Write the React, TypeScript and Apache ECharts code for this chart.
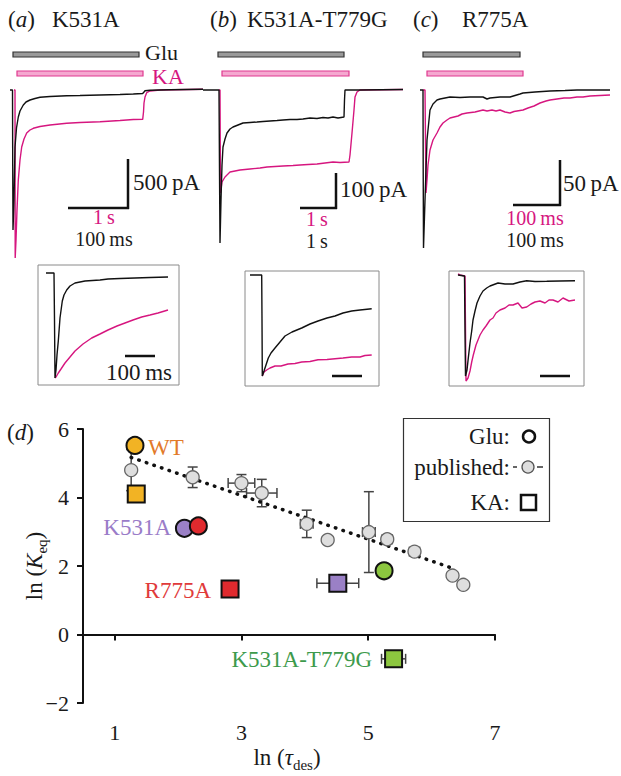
import React, { useEffect, useRef } from "react";
import * as echarts from "echarts";

// ---------- traces (time offset from onset, current relative to baseline; picture units) ----------
const gluA = [[0,0],[2.5,0],[2.7,-70],[3,-140],[4,-110],[5,-57],[6.5,-38],[8.3,-27],[10,-21],[13.3,-15],[16,-12],[20,-10],[25,-8.5],[30,-7.3],[40,-6.5],[56.7,-5.7],[70,-5.5],[90,-5],[110,-4.5],[123.3,-4],[132.7,-3.5],[134,-2],[135,-0.7],[140,-0.3],[160,0.3],[193,0.7]];
const kaA = [[4,0],[5,0],[5.2,-168],[6,-150],[7,-120],[8.3,-90],[10,-70],[11.7,-57],[14,-49],[16.7,-43],[20,-40],[23.3,-38.3],[30,-36.5],[40,-35],[56.7,-33.3],[70,-32.5],[90,-31.7],[110,-30.5],[123.3,-29.5],[132.7,-29.3],[133.5,-22],[134,-13],[135,-7],[136.7,-2.7],[140,-1],[150,0],[193,0.7]];
const gluB = [[0,0],[16,0],[16.5,-80],[17,-153],[18,-110],[19,-75],[20,-57],[22,-49],[24,-43],[27,-39],[30,-37],[35,-35],[40,-33],[47,-32.5],[54,-32],[60,-31.5],[67,-31],[74,-30.5],[80,-30],[87,-29.5],[94,-29.5],[100,-29],[107,-28],[114,-28.5],[120,-27.5],[125,-28],[130,-27],[135,-28],[141,-27],[141.5,-10],[142,0],[157,0],[200,0.5]];
const kaB = [[16,0],[17,0],[17.5,-103],[19,-92],[22,-87],[27,-82],[32,-81],[37,-80],[47,-79],[57,-78],[64,-77],[72,-76.5],[80,-76],[90,-75.5],[97,-75],[105,-74.5],[114,-74],[122,-73],[130,-72],[137,-72.5],[146,-72],[147,-65],[149,-43],[151,-20],[152,-7],[154,-2],[157,0],[200,0.5]];
const gluC = [[0,0],[3,0],[3.2,-80],[3.5,-158],[5,-110],[7,-50],[10,-20],[13,-14],[17,-10],[20,-9],[30,-7],[40,-7.5],[50,-7],[57,-7],[63,-7],[67,-9],[70,-8],[80,-7],[90,-7],[100,-4],[103,-3],[115,-2],[130,-1],[145,-0.5],[157,0],[173,0],[190,0]];
const kaC = [[3,0],[5,0],[6,-103],[7,-90],[8,-75],[10,-60],[13,-50],[17,-43],[20,-37],[23,-33],[27,-30],[30,-28],[34,-27],[38,-26],[42,-24],[47,-23],[51,-22.5],[55,-22],[59,-21],[63,-20],[67,-21],[72,-20],[76,-21],[80,-20],[85,-22],[90,-23],[94,-21.5],[97,-21],[103,-20],[108,-18],[114,-16],[120,-13],[126,-11],[130,-10],[137,-9],[144,-8],[150,-8],[157,-7],[163,-7],[170,-6],[180,-5.5],[190,-5]];

const gluInsetA = [[0,0],[8,0],[8.5,-47],[9,-105],[10,-97],[11,-82],[12.3,-68],[14,-45],[16.3,-28],[18,-22],[20.7,-17],[24,-13],[29,-10],[39,-8],[54,-7],[62,-6],[74,-5.5],[89,-5],[104,-4.5],[122,-4]];
const kaInsetA = [[9,-105],[10,-104],[12.3,-100],[15,-96],[19,-90],[24,-84],[29,-78],[37,-71],[45.7,-65],[54,-61],[62,-57],[71,-53],[79,-50],[87,-47],[95.7,-44],[104,-42],[112,-40],[122,-37]];
const gluInsetB = [[0,0],[11.7,0],[12,-45],[12.3,-101],[14,-96],[16,-90],[18.3,-83],[21,-78],[25,-73],[30,-67],[35,-61],[42,-57],[51.7,-53],[60,-49],[68,-46],[77,-43],[85,-41],[93,-38],[101.7,-36],[110,-35],[121.7,-33.7]];
const kaInsetB = [[12.3,-101],[14,-97],[16.7,-95],[20,-93],[25,-91],[31,-91],[38,-89],[45,-88.5],[51.7,-87],[60,-86.5],[68,-84.7],[77,-84.5],[85,-83.7],[93,-83],[101.7,-82],[110,-82],[115,-80.5],[121.7,-80]];
const gluInsetC = [[0,0],[6.5,-1],[7,-55],[7.5,-101],[9,-95],[10.3,-83],[12,-68],[13.7,-56],[15,-45],[17,-36],[19,-28],[22,-21],[25,-16],[28.7,-13],[32,-11],[40,-8],[47,-9],[55,-9],[62,-7],[68.7,-5.7],[77,-6.5],[88.7,-6.3],[102,-6],[117,-5.7]];
const kaInsetC = [[0,1],[2,0],[7,-1],[7.5,-55],[8,-106],[10,-103],[12,-96],[13.7,-87],[15.3,-80],[18,-70],[22,-60],[25,-55],[28,-51],[32,-45],[35,-43],[38,-38],[42,-35],[47,-33],[51,-30],[55,-30],[60,-28],[64,-33],[68.7,-32],[73,-29],[77,-27],[82,-26],[87,-28],[91,-25],[95,-25],[100,-27],[105,-23],[111,-26],[117,-25]];

// ---------- panel (d) ----------
const publishedX = [1.26, 2.23, 3.0, 3.32, 4.03, 4.36, 5.01, 5.3, 5.73, 6.33, 6.5];
const publishedY = [4.8, 4.59, 4.42, 4.13, 3.23, 2.76, 2.99, 2.78, 2.42, 1.72, 1.45];
const publishedXErr = [0, 0, 0.21, 0.24, 0.1, 0, 0.1, 0.08, 0.08, 0, 0];
const publishedYErr = [0.6, 0.3, 0.25, 0.4, 0.4, 0, 1.18, 0.1, 0.1, 0, 0];

const mutants = ["WT", "K531A", "R775A", "K531A-T779G"];
const mutantColors = ["#f2b324", "#9a80c6", "#e02a2e", "#8cc63f"];
const labelColors = ["#e27a2a", "#9a7cc8", "#e03a3a", "#3d9a4c"];
const gluX = [1.32, 2.1, 2.32, 5.25];
const gluY = [5.52, 3.1, 3.17, 1.86];
const kaX = [1.34, 4.52, 2.82, 5.4];
const kaY = [4.1, 1.5, 1.33, -0.71];
const kaXErr = [0, 0.33, 0, 0.19];

const fitX = [1.26, 6.32];
const fitY = [5.17, 1.94];

const xTicks = [1, 3, 5, 7];

const FONT = '"Liberation Serif", "Times New Roman", serif';
const FS = 23;
const MAG = "#d6167f";
const INK = "#1a1a1a";

const traceGrids = [
  { left: 0, top: 80, width: 210, height: 180, xr: [-10, 200], yr: [-170, 10], border: false, glu: gluA, ka: kaA },
  { left: 200, top: 80, width: 210, height: 180, xr: [-3, 207], yr: [-170, 10], border: false, glu: gluB, ka: kaB },
  { left: 400, top: 80, width: 221, height: 180, xr: [-20, 201], yr: [-170, 10], border: false, glu: gluC, ka: kaC },
  { left: 38, top: 265, width: 141, height: 120, xr: [-8, 133], yr: [-112, 8], border: true, glu: gluInsetA, ka: kaInsetA },
  { left: 245, top: 271, width: 134, height: 115, xr: [-5, 129], yr: [-111, 4], border: true, glu: gluInsetB, ka: kaInsetB },
  { left: 449, top: 271, width: 135, height: 115, xr: [-9, 126], yr: [-111, 4], border: true, glu: gluInsetC, ka: kaInsetC },
];

function txt(x: number, y: number, text: string, opts: any = {}) {
  const align = opts.align || "left";
  return {
    type: "text",
    x,
    y,
    z: 50,
    style: {
      text,
      font: `${opts.italic ? "italic " : ""}${opts.size || FS}px ${FONT}`,
      fill: opts.color || INK,
      textAlign: align,
      align,
      textVerticalAlign: "middle",
      verticalAlign: "middle",
      rich: opts.rich,
    },
    rotation: opts.rotation || 0,
  };
}
function ln(x1: number, y1: number, x2: number, y2: number, w = 2.5, c = "#111") {
  return { type: "line", z: 50, shape: { x1, y1, x2, y2 }, style: { stroke: c, lineWidth: w } };
}
function bar(x: number, y: number, w: number, fill: string, stroke: string) {
  return { type: "rect", z: 50, shape: { x, y, width: w, height: 5 }, style: { fill, stroke, lineWidth: 1.2 } };
}
const panelRich = {
  p: { fontFamily: FONT, fontSize: FS, fill: INK },
  i: { fontFamily: FONT, fontSize: FS, fontStyle: "italic", fill: INK },
};
function stackText(x: number, y1: number, top: string, bottom: string) {
  return [
    txt(x, y1, top, { align: "center", color: MAG, size: 20 }),
    txt(x, y1 + 22, bottom, { align: "center", size: 20 }),
  ];
}
const nameRich = {
  n: { fontFamily: FONT, fontSize: FS, fill: INK, lineHeight: 30, verticalAlign: "middle" },
  i: { fontFamily: FONT, fontSize: FS, fontStyle: "italic", fill: INK, lineHeight: 30, verticalAlign: "middle" },
  s: { fontFamily: FONT, fontSize: 15, fill: INK, lineHeight: 30, verticalAlign: "bottom" },
};

export default function App() {
  const ref = useRef<HTMLDivElement>(null);
  useEffect(() => {
    if (!ref.current) return;
    const chart = echarts.init(ref.current, undefined, { renderer: "svg" });

    const grids: any[] = [];
    const xAxes: any[] = [];
    const yAxes: any[] = [];
    const series: any[] = [];
    traceGrids.forEach((g, i) => {
      grids.push({
        left: g.left, top: g.top, width: g.width, height: g.height,
        show: g.border, borderColor: "#8a8a8a", borderWidth: 1, backgroundColor: "transparent",
      });
      xAxes.push({ type: "value", gridIndex: i, min: g.xr[0], max: g.xr[1], show: false });
      yAxes.push({ type: "value", gridIndex: i, min: g.yr[0], max: g.yr[1], show: false });
      series.push({
        type: "line", xAxisIndex: i, yAxisIndex: i, data: g.glu, showSymbol: false, silent: true,
        lineStyle: { color: "#111", width: 1.4 }, z: 3,
      });
      series.push({
        type: "line", xAxisIndex: i, yAxisIndex: i, data: g.ka, showSymbol: false, silent: true,
        lineStyle: { color: MAG, width: 1.4 }, z: 2,
      });
    });

    const di = traceGrids.length;
    grids.push({ left: 83, top: 429, width: 412, height: 274 });
    xAxes.push({
      type: "value", gridIndex: di, min: 0.5, max: 7,
      axisLine: { lineStyle: { color: "#111", width: 2 } },
      axisTick: { show: true, length: 6, lineStyle: { color: "#111", width: 2 }, customValues: xTicks },
      axisLabel: { customValues: xTicks, fontFamily: FONT, fontSize: 22, color: INK, margin: 18 },
      splitLine: { show: false },
    });
    yAxes.push({
      type: "value", gridIndex: di, min: -2, max: 6, interval: 2,
      axisLine: { show: true, lineStyle: { color: "#111", width: 2 } },
      axisTick: { show: true, length: 6, lineStyle: { color: "#111", width: 2 } },
      axisLabel: {
        fontFamily: FONT, fontSize: 22, color: INK, margin: 14,
        formatter: (v: number) => (v < 0 ? "\u2212" + Math.abs(v) : String(v)),
      },
      splitLine: { show: false },
    });

    const errData: any[] = [];
    publishedX.forEach((x, k) => errData.push([x, publishedY[k], publishedXErr[k], publishedYErr[k]]));
    kaX.forEach((x, k) => errData.push([x, kaY[k], kaXErr[k], 0]));

    series.push({
      type: "custom", xAxisIndex: di, yAxisIndex: di, data: errData, z: 4, silent: true,
      renderItem: (params: any, api: any) => {
        const x = api.value(0), y = api.value(1), xe = api.value(2), ye = api.value(3);
        const ch: any[] = [];
        const st = { stroke: "#444", lineWidth: 1.5 };
        if (xe > 0) {
          const a = api.coord([x - xe, y]), b = api.coord([x + xe, y]);
          ch.push({ type: "line", shape: { x1: a[0], y1: a[1], x2: b[0], y2: b[1] }, style: st });
          ch.push({ type: "line", shape: { x1: a[0], y1: a[1] - 5, x2: a[0], y2: a[1] + 5 }, style: st });
          ch.push({ type: "line", shape: { x1: b[0], y1: b[1] - 5, x2: b[0], y2: b[1] + 5 }, style: st });
        }
        if (ye > 0) {
          const a = api.coord([x, y - ye]), b = api.coord([x, y + ye]);
          ch.push({ type: "line", shape: { x1: a[0], y1: a[1], x2: b[0], y2: b[1] }, style: st });
          ch.push({ type: "line", shape: { x1: a[0] - 5, y1: a[1], x2: a[0] + 5, y2: a[1] }, style: st });
          ch.push({ type: "line", shape: { x1: b[0] - 5, y1: b[1], x2: b[0] + 5, y2: b[1] }, style: st });
        }
        return { type: "group", children: ch };
      },
    });
    series.push({
      type: "line", xAxisIndex: di, yAxisIndex: di, z: 5, silent: true, showSymbol: false,
      data: fitX.map((x, k) => [x, fitY[k]]),
      lineStyle: { color: "#111", width: 3.5, type: [0.5, 7.5], cap: "round" },
    });
    series.push({
      type: "scatter", xAxisIndex: di, yAxisIndex: di, z: 6, silent: true, symbol: "circle", symbolSize: 13,
      data: publishedX.map((x, k) => [x, publishedY[k]]),
      itemStyle: { color: "#dedede", borderColor: "#666", borderWidth: 1.3, opacity: 1 },
    });
    series.push({
      type: "scatter", xAxisIndex: di, yAxisIndex: di, z: 7, silent: true, symbol: "rect", symbolSize: 17,
      data: kaX.map((x, k) => ({ name: mutants[k], value: [x, kaY[k]], itemStyle: { color: mutantColors[k] } })),
      itemStyle: { borderColor: "#111", borderWidth: 2, opacity: 1 },
    });
    series.push({
      type: "scatter", xAxisIndex: di, yAxisIndex: di, z: 7, silent: true, symbol: "circle", symbolSize: 17,
      data: gluX.map((x, k) => ({ name: mutants[k], value: [x, gluY[k]], itemStyle: { color: mutantColors[k] } })),
      itemStyle: { borderColor: "#111", borderWidth: 2, opacity: 1 },
    });

    const graphic: any[] = [
      // panel titles
      txt(8, 19, "{p|(}{i|a}{p|)}", { rich: panelRich }),
      txt(52, 19, "K531A"),
      txt(210, 19, "{p|(}{i|b}{p|)}", { rich: panelRich }),
      txt(247, 19, "K531A-T779G"),
      txt(413, 19, "{p|(}{i|c}{p|)}", { rich: panelRich }),
      txt(462, 19, "R775A"),
      // agonist bars
      bar(13, 52, 126, "#9a9a9a", "#333"),
      bar(17, 71, 126, "#f5a8d0", "#e0398f"),
      txt(145, 52, "Glu", { size: 22 }),
      txt(152, 76, "KA", { color: MAG, size: 22 }),
      bar(218, 52, 126, "#9a9a9a", "#333"),
      bar(222, 71, 127, "#f5a8d0", "#e0398f"),
      bar(423, 52, 97, "#9a9a9a", "#333"),
      bar(427, 71, 96, "#f5a8d0", "#e0398f"),
      // scale bars
      ln(128, 159, 128, 209), ln(68, 208, 129, 208),
      txt(133, 182, "500\u2009pA"),
      ...stackText(104, 217, "1\u2009s", "100\u2009ms"),
      ln(336, 173, 336, 209), ln(300, 208, 337, 208),
      txt(340, 189, "100\u2009pA"),
      ...stackText(317, 219, "1\u2009s", "1\u2009s"),
      ln(560, 160, 560, 206), ln(513, 205, 561, 205),
      txt(563, 183, "50\u2009pA"),
      ...stackText(535, 218, "100\u2009ms", "100\u2009ms"),
      // inset scale bars
      ln(125, 356, 155, 356, 2.5), txt(139, 372, "100\u2009ms", { align: "center" }),
      ln(332, 376, 362, 376, 2.5),
      ln(540, 376, 570, 376, 2.5),
      // panel d
      txt(7, 432, "{p|(}{i|d}{p|)}", { rich: panelRich }),
      txt(148, 447, mutants[0], { color: labelColors[0] }),
      txt(171, 527, mutants[1], { color: labelColors[1], align: "right" }),
      txt(211, 590, mutants[2], { color: labelColors[2], align: "right" }),
      txt(372, 659, mutants[3], { color: labelColors[3], align: "right" }),
      txt(287, 757, "{n|ln (}{i|\u03c4}{s|des}{n|)}", { align: "center", rich: nameRich }),
      txt(34, 566, "{n|ln (}{i|K}{s|eq}{n|)}", { align: "center", rotation: Math.PI / 2, rich: nameRich }),
      // legend
      { type: "rect", z: 50, shape: { x: 403.5, y: 418.5, width: 146, height: 103 }, style: { fill: "#fff", stroke: "#333", lineWidth: 1.2 } },
      txt(510, 436, "Glu:", { align: "right" }),
      { type: "circle", z: 51, shape: { cx: 529, cy: 436.5, r: 6 }, style: { fill: "#fff", stroke: "#111", lineWidth: 2.5 } },
      txt(510, 467, "published:", { align: "right" }),
      ln(513, 467, 517, 467, 1.5, "#333"),
      ln(537, 467, 543, 467, 1.5, "#333"),
      { type: "circle", z: 51, shape: { cx: 528, cy: 467, r: 6 }, style: { fill: "#dedede", stroke: "#555", lineWidth: 1.3 } },
      txt(510, 502, "KA:", { align: "right" }),
      { type: "rect", z: 51, shape: { x: 521, y: 495, width: 15, height: 15 }, style: { fill: "#fff", stroke: "#111", lineWidth: 2.5 } },
    ];

    chart.setOption({
      animation: false,
      backgroundColor: "#ffffff",
      grid: grids,
      xAxis: xAxes,
      yAxis: yAxes,
      series,
      graphic,
    });
    return () => chart.dispose();
  }, []);
  return (
    <div
      ref={ref}
      style={{ position: "absolute", left: 0, top: 0, width: 621, height: 776, background: "#fff" }}
    />
  );
}
